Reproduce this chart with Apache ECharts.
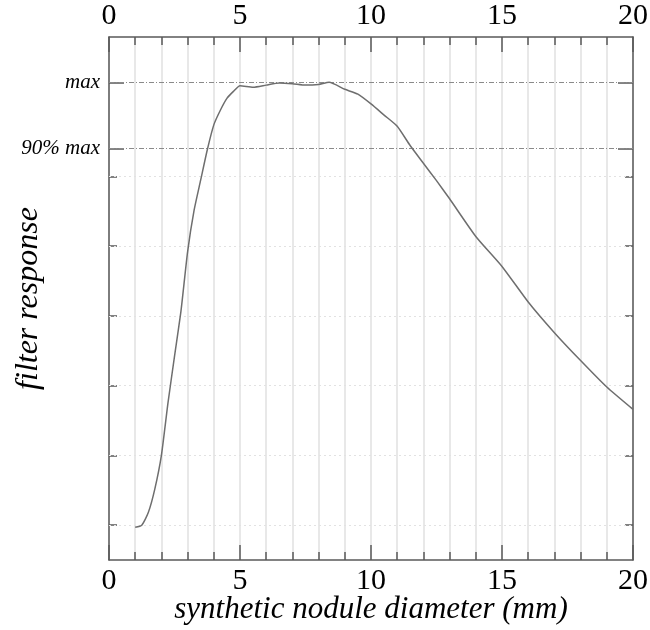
<!DOCTYPE html>
<html>
<head>
<meta charset="utf-8">
<script src="https://cdn.jsdelivr.net/npm/echarts@6/dist/echarts.min.js"></script>
<style>html,body{margin:0;padding:0;background:#fff}#c{width:650px;height:630px}</style>
</head>
<body>
<div id="c"></div>
<script>
// Data
const diameterMm = [1,1.25,1.5,1.75,2,2.25,2.5,2.75,3,3.25,3.5,3.75,4,4.25,4.5,4.75,5,5.5,6,6.5,7,7.5,8,8.4,9,9.5,10,10.5,11,11.5,12,12.5,13,14,15,16,17,18,19,20];
const filterResponse = [0.97,1.0,1.18,1.52,2.0,2.75,3.42,4.08,4.92,5.52,5.95,6.38,6.74,6.95,7.12,7.22,7.30,7.28,7.31,7.34,7.33,7.31,7.32,7.35,7.25,7.18,7.04,6.88,6.72,6.44,6.19,5.94,5.68,5.14,4.71,4.2,3.76,3.36,2.98,2.66];
const yTickValues = [1,2,3,4,5,6];
const refValues = [6.4, 7.35];
const refLabels = ['90% max', 'max'];
const xTitle = 'synthetic nodule diameter (mm)';
const yTitle = 'filter response';

const AX = '#5a5a5a';
const serif = 'Liberation Serif';

function xAxisCfg(pos, withGrid) {
  return {
    type: 'value', position: pos, min: 0, max: 20, interval: 5,
    axisLine: { onZero: false, lineStyle: { color: AX, width: 1.5 } },
    axisTick: { inside: true, length: 15, lineStyle: { color: AX, width: 1.5 } },
    minorTick: { show: true, splitNumber: 5, length: 8, lineStyle: { color: AX, width: 1.5 } },
    axisLabel: { fontFamily: serif, fontSize: 30, color: '#000', margin: 6 },
    splitLine: { show: withGrid, lineStyle: { color: '#e8e8e8', width: 2 } },
    minorSplitLine: { show: withGrid, lineStyle: { color: '#e8e8e8', width: 2 } }
  };
}

const xBottom = xAxisCfg('bottom', true);
xBottom.name = xTitle;
xBottom.nameLocation = 'middle';
xBottom.nameGap = 34;
xBottom.nameMoveOverlap = false;
xBottom.nameTextStyle = { fontFamily: serif, fontStyle: 'italic', fontSize: 31, color: '#000' };
const xTop = xAxisCfg('top', false);

function yAxisCfg(pos, ticks, len, showLine, labels) {
  return {
    type: 'value', position: pos, min: 0.5, max: 8,
    axisLine: { show: showLine, onZero: false, lineStyle: { color: AX, width: 1.5 } },
    axisTick: { show: true, inside: true, length: len, customValues: ticks, lineStyle: { color: AX, width: 1.5 } },
    axisLabel: labels ? {
      show: true, customValues: refValues, margin: 9,
      fontFamily: serif, fontStyle: 'italic', fontSize: 21, color: '#000',
      formatter: function (v) { const i = refValues.findIndex(r => Math.abs(r - v) < 1e-6); return i >= 0 ? refLabels[i] : ''; }
    } : { show: false },
    splitLine: { show: false }
  };
}

const yLeft = yAxisCfg('left', yTickValues, 8, true, true);
yLeft.name = yTitle;
yLeft.nameLocation = 'middle';
yLeft.nameGap = 64;
yLeft.nameMoveOverlap = false;
yLeft.nameTextStyle = { fontFamily: serif, fontStyle: 'italic', fontSize: 32, color: '#000' };

const markData = yTickValues.map(v => ({ yAxis: v, lineStyle: { type: [2, 3], color: '#e2e2e2', width: 1 } }))
  .concat(refValues.map(v => ({ yAxis: v, lineStyle: { type: [5, 2, 1, 2], color: '#8a8a8a', width: 1 } })));

const option = {
  animation: false,
  backgroundColor: '#fff',
  grid: { left: 109, right: 17, top: 37, bottom: 70, containLabel: false, outerBoundsMode: 'none' },
  xAxis: [xBottom, xTop],
  yAxis: [
    yLeft,
    yAxisCfg('right', yTickValues, 8, true, false),
    yAxisCfg('left', refValues, 15, false, false),
    yAxisCfg('right', refValues, 15, false, false)
  ],
  series: [{
    type: 'line',
    xAxisIndex: 0, yAxisIndex: 0,
    data: diameterMm.map((x, i) => [x, filterResponse[i]]),
    showSymbol: false,
    smooth: 0.2,
    lineStyle: { color: '#6e6e6e', width: 1.5 },
    z: 5,
    markLine: {
      silent: true, symbol: 'none', animation: false,
      label: { show: false },
      data: markData
    }
  }]
};

const chart = echarts.init(document.getElementById('c'), null, { renderer: 'canvas' });
chart.setOption(option);
</script>
</body>
</html>
